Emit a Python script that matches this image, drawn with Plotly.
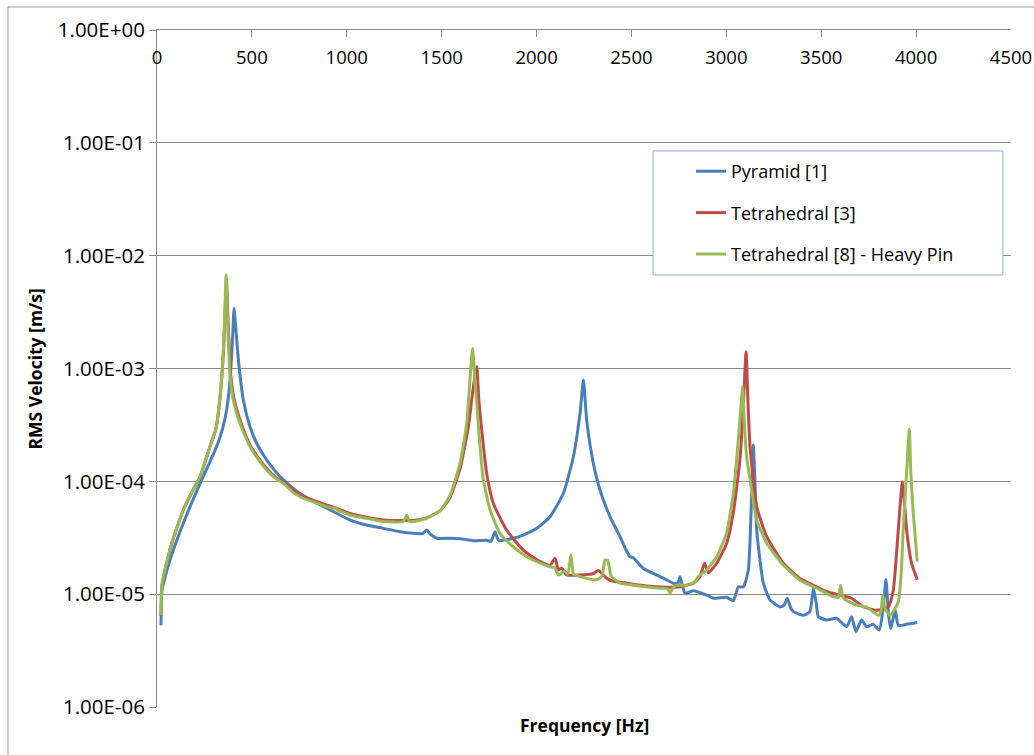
import plotly.graph_objects as go

# ---- Pyramid [1] ----
pyr_freq = [21, 26, 40, 51, 80, 110, 139, 180, 227, 270, 314, 345, 367, 385, 398, 406, 414, 429,
            455, 490, 530, 578, 620, 666, 710, 753, 800, 842, 929, 1017, 1105, 1192, 1280, 1351,
            1400, 1421, 1440, 1474, 1544, 1597, 1667, 1737, 1760, 1781, 1800, 1877, 1930, 2001,
            2071, 2141, 2194, 2229, 2247, 2264, 2299, 2334, 2387, 2440, 2470, 2492, 2510, 2563,
            2650, 2685, 2720, 2745, 2756, 2768, 2782, 2826, 2896, 2932, 3001, 3037, 3063, 3090,
            3116, 3133, 3142, 3150, 3160, 3195, 3230, 3283, 3305, 3321, 3340, 3353, 3406, 3440,
            3459, 3475, 3485, 3529, 3581, 3634, 3660, 3683, 3713, 3739, 3774, 3806, 3827, 3841,
            3855, 3866, 3890, 3906, 3950, 4006]
pyr_vel = [5.3e-6, 1.1e-5, 1.35e-5, 1.6e-5, 2.3e-5, 3.2e-5, 4.27e-5, 6.3e-5, 9.6e-5, 1.38e-4,
           2.03e-4, 2.9e-4, 4.3e-4, 7.9e-4, 1.8e-3, 3.41e-3, 2.4e-3, 1.19e-3, 5.25e-4, 3.05e-4,
           2.1e-4, 1.55e-4, 1.25e-4, 1.03e-4, 8.9e-5, 7.8e-5, 7.0e-5, 6.4e-5, 5.4e-5, 4.54e-5,
           4.1e-5, 3.83e-5, 3.58e-5, 3.46e-5, 3.45e-5, 3.7e-5, 3.4e-5, 3.13e-5, 3.13e-5, 3.1e-5,
           2.98e-5, 3.0e-5, 2.95e-5, 3.58e-5, 3.0e-5, 3.13e-5, 3.34e-5, 3.83e-5, 4.86e-5, 7.8e-5,
           1.65e-4, 4.0e-4, 7.9e-4, 3.5e-4, 1.45e-4, 8.4e-5, 4.86e-5, 3.23e-5, 2.5e-5, 2.15e-5,
           2.1e-5, 1.69e-5, 1.43e-5, 1.34e-5, 1.25e-5, 1.25e-5, 1.43e-5, 1.2e-5, 1.02e-5, 1.07e-5,
           9.8e-6, 9.2e-6, 9.4e-6, 8.75e-6, 1.16e-5, 1.16e-5, 1.64e-5, 7.3e-5, 2.1e-4, 1.1e-4,
           3.7e-5, 1.25e-5, 8.9e-6, 7.7e-6, 8.0e-6, 9.2e-6, 7.5e-6, 7.0e-6, 6.5e-6, 7.0e-6,
           1.13e-5, 8.0e-6, 6.3e-6, 5.9e-6, 6.1e-6, 5.15e-6, 6.3e-6, 4.65e-6, 5.9e-6, 5.15e-6,
           5.4e-6, 4.8e-6, 7.7e-6, 1.35e-5, 6.5e-6, 4.95e-6, 7.2e-6, 5.3e-6, 5.4e-6, 5.6e-6]

# ---- Tetrahedral [3] ----
tet3_freq = [21, 27, 51, 80, 110, 139, 180, 227, 279, 310, 332, 350, 360, 366, 372, 388, 405,
             440, 490, 530, 578, 620, 666, 753, 842, 929, 1017, 1105, 1192, 1298, 1351, 1421,
             1492, 1544, 1597, 1640, 1665, 1685, 1695, 1711, 1737, 1772, 1842, 1930, 2018, 2071,
             2097, 2115, 2133, 2159, 2229, 2299, 2325, 2370, 2405, 2475, 2580, 2685, 2756, 2826,
             2861, 2885, 2905, 2949, 3001, 3037, 3073, 3090, 3104, 3114, 3125, 3160, 3213, 3300,
             3388, 3459, 3529, 3599, 3660, 3722, 3792, 3853, 3880, 3906, 3928, 3950, 3976, 4006]
tet3_vel = [6.4e-6, 1.22e-5, 1.9e-5, 2.9e-5, 4.1e-5, 5.6e-5, 7.8e-5, 1.1e-4, 2.03e-4, 2.9e-4,
            5.5e-4, 1.4e-3, 3.5e-3, 6.2e-3, 3.3e-3, 9.0e-4, 5.5e-4, 3.4e-4, 2.1e-4, 1.65e-4,
            1.3e-4, 1.1e-4, 9.8e-5, 7.6e-5, 6.6e-5, 5.9e-5, 5.2e-5, 4.8e-5, 4.55e-5, 4.5e-5,
            4.5e-5, 4.75e-5, 5.5e-5, 7.2e-5, 1.3e-4, 3.0e-4, 6.5e-4, 1.04e-3, 5.5e-4, 2.85e-4,
            1.18e-4, 6.4e-5, 3.7e-5, 2.46e-5, 1.95e-5, 1.8e-5, 2.08e-5, 1.65e-5, 1.7e-5, 1.48e-5,
            1.48e-5, 1.52e-5, 1.62e-5, 1.38e-5, 1.3e-5, 1.25e-5, 1.18e-5, 1.15e-5, 1.16e-5,
            1.25e-5, 1.43e-5, 1.88e-5, 1.55e-5, 1.88e-5, 2.8e-5, 5.3e-5, 1.65e-4, 4.9e-4, 1.41e-3,
            5.0e-4, 2.03e-4, 5.96e-5, 3.23e-5, 1.88e-5, 1.38e-5, 1.2e-5, 1.05e-5, 9.8e-6, 9.2e-6,
            7.74e-6, 7.2e-6, 7.7e-6, 1.09e-5, 3.7e-5, 9.9e-5, 3.7e-5, 1.88e-5, 1.34e-5]

# ---- Tetrahedral [8] - Heavy Pin ----
tet8_freq = [21, 27, 51, 80, 110, 139, 180, 227, 279, 310, 332, 350, 358, 364, 370, 385, 402,
             437, 490, 530, 578, 620, 666, 710, 735, 745, 753, 842, 929, 940, 950, 1017, 1105,
             1192, 1298, 1316, 1330, 1351, 1421, 1492, 1544, 1597, 1632, 1649, 1663, 1675, 1690,
             1702, 1720, 1755, 1807, 1877, 1948, 2018, 2071, 2097, 2115, 2150, 2165, 2181, 2195,
             2203, 2264, 2317, 2345, 2360, 2375, 2392, 2405, 2440, 2545, 2650, 2690, 2703, 2720,
             2738, 2790, 2835, 2852, 2896, 2949, 3001, 3037, 3063, 3078, 3086, 3094, 3108, 3125,
             3160, 3213, 3300, 3388, 3476, 3564, 3590, 3602, 3614, 3625, 3687, 3739, 3801, 3815,
             3824, 3836, 3862, 3890, 3906, 3920, 3932, 3950, 3964, 3972, 3985, 4006]
tet8_vel = [6.5e-6, 1.25e-5, 1.9e-5, 2.9e-5, 4.1e-5, 5.6e-5, 7.8e-5, 1.1e-4, 2.03e-4, 2.9e-4,
            5.6e-4, 1.46e-3, 3.5e-3, 6.74e-3, 3.2e-3, 8.5e-4, 5.25e-4, 3.27e-4, 2.03e-4, 1.6e-4,
            1.26e-4, 1.08e-4, 9.6e-5, 8.2e-5, 7.6e-5, 7.5e-5, 7.3e-5, 6.4e-5, 5.76e-5, 5.9e-5,
            5.6e-5, 5.03e-5, 4.7e-5, 4.4e-5, 4.4e-5, 5.0e-5, 4.4e-5, 4.4e-5, 4.7e-5, 5.5e-5,
            7.5e-5, 1.45e-4, 3.27e-4, 7.9e-4, 1.51e-3, 8.0e-4, 3.8e-4, 2.03e-4, 1.03e-4, 5.6e-5,
            3.46e-5, 2.63e-5, 2.15e-5, 1.88e-5, 1.75e-5, 1.72e-5, 1.48e-5, 1.6e-5, 1.5e-5, 2.22e-5,
            1.5e-5, 1.48e-5, 1.38e-5, 1.34e-5, 1.45e-5, 2.0e-5, 2.0e-5, 1.45e-5, 1.38e-5, 1.25e-5,
            1.18e-5, 1.13e-5, 1.12e-5, 1.02e-5, 1.15e-5, 1.2e-5, 1.2e-5, 1.29e-5, 1.43e-5, 1.64e-5,
            2.15e-5, 3.46e-5, 7.8e-5, 2.32e-4, 4.8e-4, 6.9e-4, 3.5e-4, 1.6e-4, 1.03e-4, 4.54e-5,
            2.82e-5, 1.81e-5, 1.33e-5, 1.13e-5, 9.5e-6, 9.3e-6, 1.2e-5, 9.5e-6, 9.0e-6, 8.0e-6,
            7.7e-6, 6.5e-6, 7.0e-6, 9.8e-6, 7.5e-6, 6.5e-6, 7.5e-6, 8.6e-6, 1.4e-5, 3.7e-5,
            1.2e-4, 2.89e-4, 1.2e-4, 5.2e-5, 1.94e-5]

# axis ticks
x_ticks = [0, 500, 1000, 1500, 2000, 2500, 3000, 3500, 4000, 4500]
y_ticks = [1e0, 1e-1, 1e-2, 1e-3, 1e-4, 1e-5, 1e-6]
y_tick_labels = ["1.00E+00", "1.00E-01", "1.00E-02", "1.00E-03", "1.00E-04", "1.00E-05", "1.00E-06"]

series = [
    ("Pyramid [1]", pyr_freq, pyr_vel, "#4A7EBB"),
    ("Tetrahedral [3]", tet3_freq, tet3_vel, "#BE4B48"),
    ("Tetrahedral [8] - Heavy Pin", tet8_freq, tet8_vel, "#98B954"),
]

FONT = "'Open Sans', sans-serif"
GRID = "#8a8a8a"

fig = go.Figure()
for i, (name, fx, fy, col) in enumerate(series):
    fig.add_trace(go.Scatter(
        x=fx, y=fy, name=name, mode="lines", legendgroup=f"g{i}",
        line=dict(color=col, width=3, shape="spline", smoothing=0.5),
    ))

fig.update_layout(
    width=1034, height=755,
    margin=dict(l=157, r=23, t=30, b=48, autoexpand=False),
    paper_bgcolor="white", plot_bgcolor="white",
    font=dict(family=FONT, size=17, color="#000000"),
    showlegend=True,
    legend=dict(
        x=0.6253, y=0.8183, xanchor="left", yanchor="top",
        borderwidth=0, bgcolor="rgba(0,0,0,0)",
        font=dict(family=FONT, size=18, color="#000000"),
        tracegroupgap=15, traceorder="grouped", itemwidth=30,
    ),
    xaxis=dict(
        range=[0, 4500], side="top", tickvals=x_ticks,
        ticks="inside", ticklen=7, tickcolor=GRID,
        ticklabelposition="outside", ticklabelstandoff=-42,
        showgrid=False, zeroline=False,
        showline=True, linecolor=GRID, linewidth=1,
        tickfont=dict(family=FONT, size=18.5, color="#000000"),
    ),
    yaxis=dict(
        type="log", range=[-6, 0], tickvals=y_ticks, ticktext=y_tick_labels,
        ticks="outside", ticklen=7, tickcolor=GRID,
        showgrid=True, gridcolor=GRID, gridwidth=1, zeroline=False,
        showline=True, linecolor=GRID, linewidth=1,
        tickfont=dict(family=FONT, size=20.5, color="#000000"),
    ),
    shapes=[
        # outer chart border
        dict(type="rect", xref="paper", yref="paper",
             x0=-0.1745, x1=1.2, y0=-0.2, y1=1.034,
             line=dict(color="#9a9a9a", width=1), fillcolor="rgba(0,0,0,0)", layer="below"),
        # legend frame
        dict(type="rect", xref="paper", yref="paper",
             x0=0.5808, x1=0.9906, y0=0.6381, y1=0.8213,
             line=dict(color="#8faad6", width=1), fillcolor="white", layer="above"),
    ],
    annotations=[
        dict(text="<b>Frequency [Hz]</b>", xref="paper", yref="paper",
             x=0.5, y=-0.027, xanchor="center", yanchor="middle", showarrow=False,
             font=dict(family=FONT, size=17.5, color="#000000")),
        dict(text="<b>RMS Velocity [m/s]</b>", xref="paper", yref="paper",
             x=-0.1429, y=0.5, xanchor="center", yanchor="middle", showarrow=False,
             textangle=-90, font=dict(family=FONT, size=17.5, color="#000000")),
    ],
)

fig.write_html("out.html")
